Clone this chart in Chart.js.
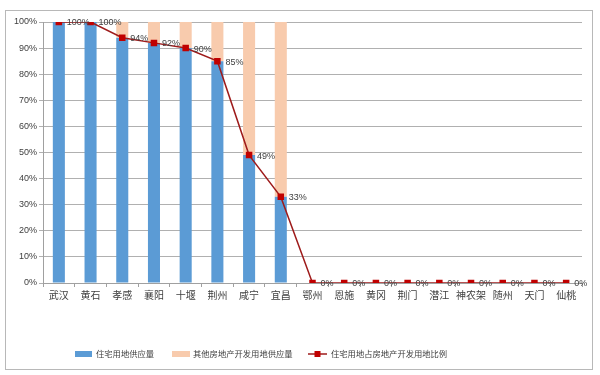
<!DOCTYPE html>
<html><head><meta charset="utf-8">
<script src="https://cdn.jsdelivr.net/npm/chart.js@4/dist/chart.umd.min.js"></script>
<style>html,body{margin:0;padding:0;background:#fff;}#wrap{width:600px;height:375px;}</style>
</head><body><div id="wrap"><canvas id="c" width="600" height="375"></canvas></div>
<script>
const categories = ['武汉','黄石','孝感','襄阳','十堰','荆州','咸宁','宜昌','鄂州','恩施','黄冈','荆门','潜江','神农架','随州','天门','仙桃'];
const residential = [100,100,94,92,90,85,49,33,0,0,0,0,0,0,0,0,0];
const otherRealEstate = [0,0,6,8,10,15,51,67,0,0,0,0,0,0,0,0,0];
const ratio = [100,100,94,92,90,85,49,33,0,0,0,0,0,0,0,0,0];
const seriesNames = ['住宅用地供应量','其他房地产开发用地供应量','住宅用地占房地产开发用地比例'];
const yTicks = [0,10,20,30,40,50,60,70,80,90,100];

const CJK = '"Noto Sans CJK SC","Liberation Sans",sans-serif';

const framePlugin = {
  id:'frame',
  beforeDraw(chart){
    const c = chart.ctx;
    c.save();
    c.fillStyle='#fff'; c.fillRect(0,0,chart.width,chart.height);
    c.strokeStyle='#b8b8b8'; c.lineWidth=1;
    c.strokeRect(5.5,10.5,587,359);
    c.restore();
  }
};

const labelPlugin = {
  id:'lineLabels',
  afterDatasetsDraw(chart){
    const meta = chart.getDatasetMeta(2);
    const c = chart.ctx;
    c.save();
    c.font = '9px "Liberation Sans",Arial,sans-serif';
    c.fillStyle = '#404040';
    c.textAlign='left'; c.textBaseline='middle';
    meta.data.forEach((pt,i)=>{
      c.fillText(ratio[i]+'%', pt.x+8, pt.y+1);
    });
    c.restore();
  }
};

const legendPlugin = {
  id:'customLegend',
  afterDraw(chart){
    const c = chart.ctx;
    const ds = chart.data.datasets;
    const y = 354;
    c.save();
    c.font = '8.3px '+CJK;
    c.textBaseline='middle'; c.textAlign='left';
    c.fillStyle = ds[0].backgroundColor; c.fillRect(75,351,17,6);
    c.fillStyle='#404040'; c.fillText(ds[0].label, 96, y);
    c.fillStyle = ds[1].backgroundColor; c.fillRect(172,351,18,6);
    c.fillStyle='#404040'; c.fillText(ds[1].label, 193, y);
    c.strokeStyle = ds[2].borderColor; c.lineWidth=1.5;
    c.beginPath(); c.moveTo(308,y); c.lineTo(327,y); c.stroke();
    c.fillStyle = ds[2].pointBackgroundColor; c.fillRect(314.5,351,6,6);
    c.fillStyle='#404040'; c.fillText(ds[2].label, 331, y);
    c.restore();
  }
};

new Chart(document.getElementById('c'), {
  data: {
    labels: categories,
    datasets: [
      {type:'bar', label:seriesNames[0], data:residential, backgroundColor:'#5B9BD5', stack:'s', order:1, barPercentage:0.38, categoryPercentage:1},
      {type:'bar', label:seriesNames[1], data:otherRealEstate, backgroundColor:'#F8CBAD', stack:'s', order:2, barPercentage:0.38, categoryPercentage:1},
      {type:'line', label:seriesNames[2], data:ratio, borderColor:'#9E1B1B', borderWidth:1.5, pointStyle:'rect', pointRadius:4.6, pointBackgroundColor:'#C00000', pointBorderColor:'#C00000', pointBorderWidth:0, stack:'line', order:0, tension:0}
    ]
  },
  options: {
    responsive:false, animation:false,
    layout:{padding:{left:0,right:18,top:22,bottom:0}},
    plugins:{legend:{display:false}, tooltip:{enabled:false}},
    scales:{
      x:{
        stacked:true, offset:true,
        grid:{display:true, drawOnChartArea:false, drawTicks:true, tickLength:4, color:'#a0a0a0', offset:true},
        border:{color:'#a0a0a0'},
        ticks:{font:{family:CJK,size:10}, color:'#404040', padding:2, maxRotation:0, autoSkip:false},
        afterFit(s){ s.height = 92; }
      },
      y:{
        stacked:true, min:0, max:100,
        afterBuildTicks(s){ s.ticks = yTicks.map(v=>({value:v})); },
        grid:{color:'#b0b0b0', lineWidth:1, tickLength:4, drawTicks:true},
        border:{color:'#a0a0a0'},
        ticks:{font:{family:'"Liberation Sans",Arial,sans-serif',size:9}, color:'#404040', padding:2, callback:v=>v+'%'},
        afterFit(s){ s.width = 43; }
      }
    }
  },
  plugins:[framePlugin,labelPlugin,legendPlugin]
});
</script></body></html>
